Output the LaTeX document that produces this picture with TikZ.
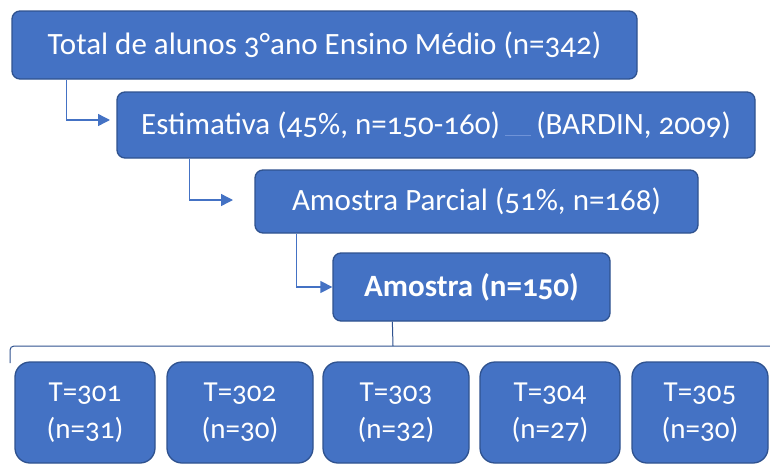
\documentclass[tikz,border=0pt]{standalone}
\usepackage{fontspec}
\setmainfont{Carlito}[Numbers=OldStyle]
\usetikzlibrary{arrows.meta,positioning}
\definecolor{boxfill}{HTML}{4472C4}
\definecolor{boxline}{HTML}{2F528F}
\definecolor{linkblue}{HTML}{6F93D8}
\tikzset{
  box/.style={draw=boxline, line width=1.3pt, fill=boxfill, rounded corners=8pt, text=white, inner sep=0pt, font=\fontsize{31}{36}\selectfont},
  tbox/.style={box, rounded corners=15pt, align=center, minimum width=140pt, minimum height=101pt, font=\fontsize{29}{37}\selectfont},
  arr/.style={draw=boxfill, line width=1.4pt, -{Triangle[length=12pt,width=12pt]}},
  brk/.style={draw=boxline, line width=1pt, rounded corners=4pt}
}
\begin{document}
\begin{tikzpicture}[x=1pt,y=-1pt]
\useasboundingbox (0,0) rectangle (770,466);
\node[box, minimum width=625pt, minimum height=68pt] (b1) at (324.5,45) {Total de alunos 3°ano Ensino Médio (n=342)};
\node[box, minimum width=638pt, minimum height=66pt] (b2) at (436,125) {Estimativa (45\%, n=150-160)\,\textcolor{linkblue}{\underline{\hspace{26pt}}}\,(BARDIN, 2009)};
\node[box, minimum width=443pt, minimum height=63pt] (b3) at (476.5,201.5) {Amostra Parcial (51\%, n=168)};
\node[box, minimum width=277pt, minimum height=68pt, font=\fontsize{31}{36}\selectfont\bfseries] (b4) at (471.5,287) {Amostra (n=150)};
\node[tbox, minimum width=140pt] (t1) at (85,412.5) {T=301\\(n=31)};
\node[tbox, minimum width=146pt] (t2) at (240,412.5) {T=302\\(n=30)};
\node[tbox, minimum width=146pt] (t3) at (396,412.5) {T=303\\(n=32)};
\node[tbox, minimum width=140pt] (t4) at (550,412.5) {T=304\\(n=27)};
\node[tbox, minimum width=136pt] (t5) at (700,412.5) {T=305\\(n=30)};
\coordinate (e1) at (110,120);
\coordinate (e2) at (233,200);
\draw[arr] ([xshift=55pt]b1.south west) |- (e1);
\draw[arr] ([xshift=73pt]b2.south west) |- (e2);
\draw[arr] ([xshift=42pt]b3.south west) |- (b4.west);
\coordinate (bl) at (10,363);
\coordinate (br) at (770,346);
\coordinate (bm) at (393,346);
\draw[brk] (bl) |- (br);
\draw[brk] ([xshift=60pt]b4.south west) -- (bm);
\end{tikzpicture}
\end{document}
